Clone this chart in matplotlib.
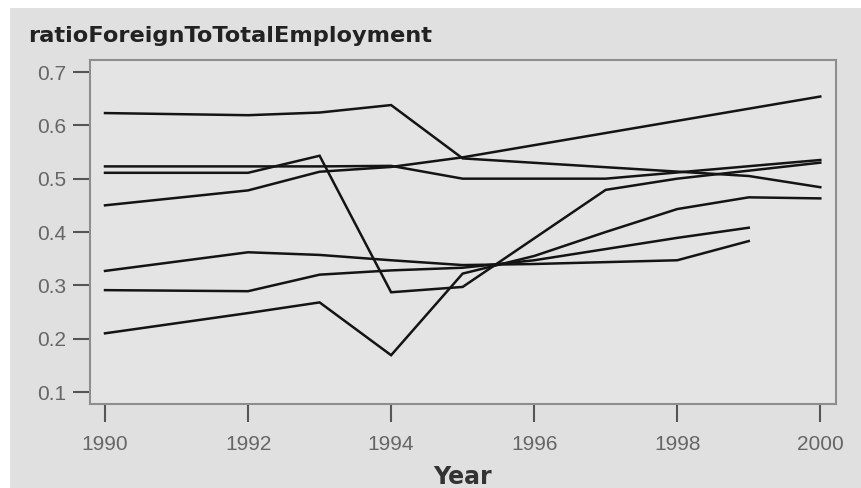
import matplotlib
matplotlib.use("Agg")
import matplotlib.pyplot as plt
from matplotlib.patches import Rectangle

# one list of years and one list of values per country line
years_a = [1990, 1992, 1993, 1994, 1995, 1999, 2000]
vals_a = [0.623, 0.619, 0.624, 0.638, 0.538, 0.505, 0.484]

years_b = [1990, 1992, 1993, 1994, 1995, 2000]
vals_b = [0.450, 0.478, 0.513, 0.522, 0.540, 0.654]

years_c = [1990, 1992, 1993, 1994, 1995, 1997, 2000]
vals_c = [0.523, 0.523, 0.523, 0.524, 0.500, 0.500, 0.535]

years_d = [1990, 1992, 1993, 1994, 1995, 1997, 1998, 2000]
vals_d = [0.511, 0.511, 0.543, 0.287, 0.297, 0.479, 0.500, 0.530]

years_f = [1990, 1992, 1993, 1994, 1995, 1996, 1998, 1999]
vals_f = [0.327, 0.362, 0.357, 0.347, 0.338, 0.340, 0.347, 0.383]

years_g = [1990, 1992, 1993, 1994, 1995, 1996, 1998, 1999]
vals_g = [0.291, 0.289, 0.320, 0.328, 0.333, 0.347, 0.389, 0.408]

years_h = [1990, 1992, 1993, 1994, 1995, 1996, 1997, 1998, 1999, 2000]
vals_h = [0.210, 0.248, 0.268, 0.169, 0.322, 0.355, 0.400, 0.443, 0.465, 0.463]

series = [(years_a, vals_a), (years_b, vals_b), (years_c, vals_c), (years_d, vals_d),
          (years_f, vals_f), (years_g, vals_g), (years_h, vals_h)]

x_ticks = [1990, 1992, 1994, 1996, 1998, 2000]
y_ticks = [0.1, 0.2, 0.3, 0.4, 0.5, 0.6, 0.7]

plt.rcParams['font.family'] = ['Liberation Sans', 'DejaVu Sans']

fig = plt.figure(figsize=(8.62, 4.88), dpi=100, facecolor="white")
# grey panel, leaving a thin white strip at the top and left
fig.patches.append(Rectangle((10 / 862, 0), 1, 1 - 8 / 488, transform=fig.transFigure,
                             facecolor="#e0e0e0", edgecolor="none", zorder=-5))

ax = fig.add_axes([90 / 862, 1 - 404 / 488, (836 - 90) / 862, (404 - 60) / 488])
ax.set_facecolor("#e4e4e4")

for xs, ys in series:
    ax.plot(xs, ys, color="#141414", lw=1.8, solid_joinstyle="miter")

ax.set_xlim(1989.79, 2000.22)
ax.set_ylim(0.0775, 0.7225)
ax.set_xticks(x_ticks)
ax.set_xticklabels([str(x) for x in x_ticks])
ax.set_yticks(y_ticks)
ax.set_yticklabels([f"{y:.1f}" for y in y_ticks])

for s in ax.spines.values():
    s.set_color("#8e8e8e")
    s.set_linewidth(1.5)

ax.tick_params(axis="x", length=13, width=1.5, color="#555555", pad=9,
               labelsize=15, labelcolor="#666666")
ax.tick_params(axis="y", length=12, width=1.5, color="#555555", pad=5,
               labelsize=15, labelcolor="#666666")

fig.text(28 / 862, 1 - 42 / 488, "ratioForeignToTotalEmployment", fontsize=16.2,
         fontweight="bold", family="DejaVu Sans", color="#222222",
         ha="left", va="baseline")
fig.text(463 / 862, 1 - 484 / 488, "Year", fontsize=17, fontweight="bold",
         family="DejaVu Sans", color="#333333", ha="center", va="baseline")

fig.savefig("out.png", dpi=100, facecolor=fig.get_facecolor())
